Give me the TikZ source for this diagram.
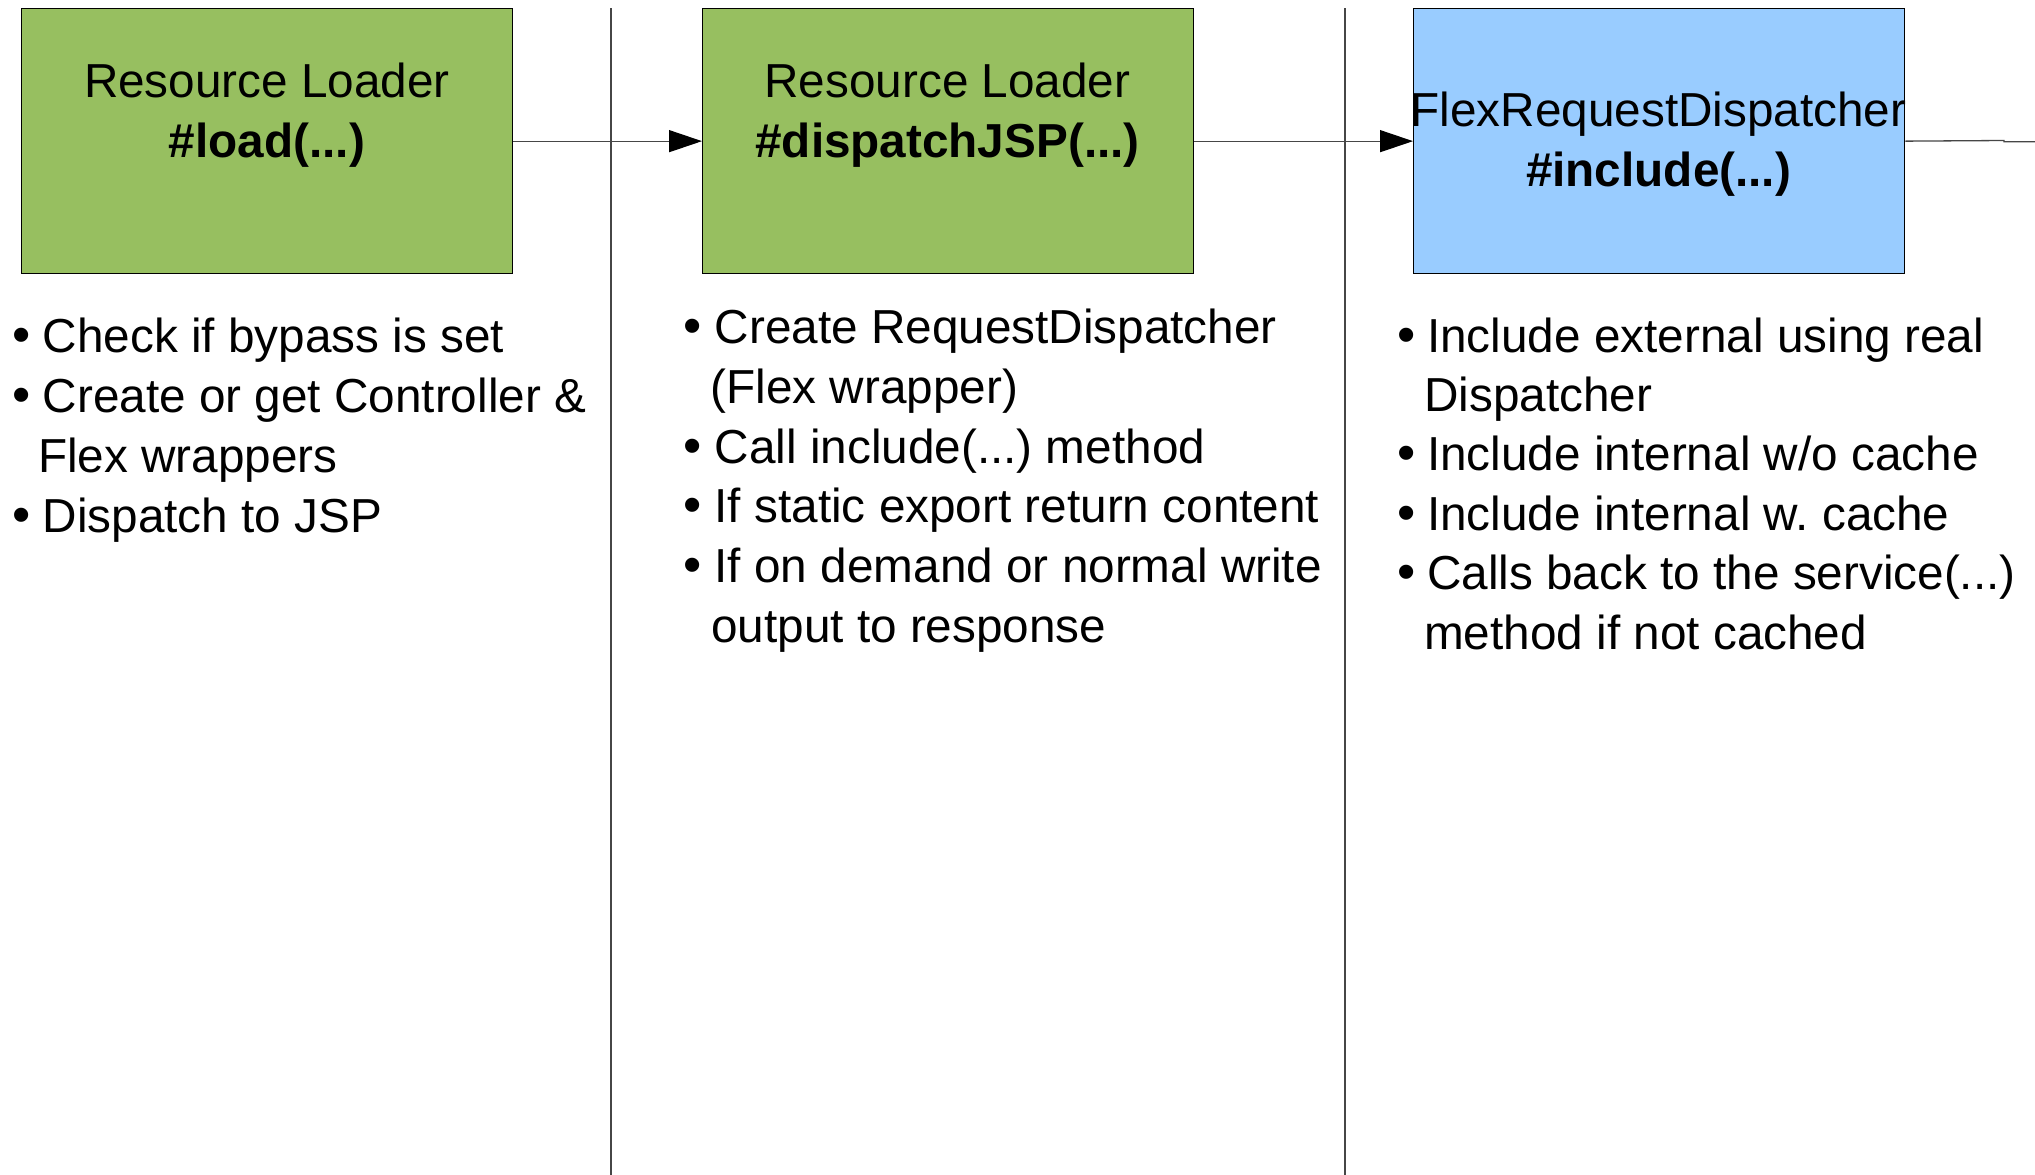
\documentclass[tikz,border=0pt]{standalone}
\usepackage{fontspec}
\setmainfont{Liberation Sans}
\usetikzlibrary{arrows.meta}
\definecolor{boxgreen}{RGB}{151,191,96}
\definecolor{boxblue}{RGB}{153,204,255}
\definecolor{linegrey}{RGB}{70,70,70}
\frenchspacing
\begin{document}
\begin{tikzpicture}[x=1pt,y=-1pt,
  box/.style={draw=black, line width=1.3pt, minimum width=491pt, minimum height=265pt, inner sep=0pt, anchor=north west},
  txt/.style={inner sep=0pt, anchor=base west, font=\fontsize{47.7}{60}\selectfont},
  bul/.style={inner sep=0pt, anchor=base west, font=\fontsize{52}{60}\selectfont},
  ttl/.style={inner sep=0pt, anchor=base, font=\fontsize{47.7}{60}\selectfont},
  sep/.style={draw=linegrey, line width=1.3pt},
  flow/.style={draw=linegrey, line width=1.3pt, -{Triangle[length=33pt,width=22pt,fill=black,color=black]}}]
\useasboundingbox (0,0) rectangle (2035,1175);
\fill[white] (0,0) rectangle (2035,1175);
% separators
\draw[sep] (611,8) -- (611,1175);
\draw[sep] (1345,8) -- (1345,1175);
% boxes
\node[box, fill=boxgreen] (b1) at (21,8) {};
\node[box, fill=boxgreen] (b2) at (702,8) {};
\node[box, fill=boxblue] (b3) at (1413,8) {};
% titles
\node[ttl] (t1a) at (267,97) {Resource Loader};
\node[ttl] (t1b) at (267,157) {\bfseries \#load(...)};
\node[ttl] (t2a) at (947.5,97) {Resource Loader};
\node[ttl] (t2b) at (947.5,157) {\bfseries \#dispatchJSP(...)};
\node[ttl] (t3a) at (1658.5,126) {FlexRequestDispatcher};
\node[ttl] (t3b) at (1658.5,186) {\bfseries \#include(...)};
% connectors
\draw[flow] (b1.east) -- (b2.west);
\draw[flow] (b2.east) -- (b3.west);
\coordinate (k1) at (2004,140.5);
\coordinate (k2) at (2004,141.8);
\coordinate (k3) at (2035,141.8);
\draw[sep] (b3.east) -- (k1) -- (k2) -- (k3);
% column 1
\node[bul] (c1b1) at (12,352) {\textbullet};
\node[txt] (c1l1) at (42.5,352) {Check if bypass is set};
\node[bul] (c1b2) at (12,412) {\textbullet};
\node[txt] (c1l2) at (42.5,412) {Create or get Controller \&};
\node[txt] (c1l3) at (38,472) {Flex wrappers};
\node[bul] (c1b4) at (12,532) {\textbullet};
\node[txt] (c1l4) at (42.5,532) {Dispatch to JSP};
% column 2
\node[bul] (c2b1) at (683,343) {\textbullet};
\node[txt] (c2l1) at (714.5,343) {Create RequestDispatcher};
\node[txt] (c2l2) at (710.5,403) {(Flex wrapper)};
\node[bul] (c2b3) at (683,463) {\textbullet};
\node[txt] (c2l3) at (714.5,463) {Call include(...) method};
\node[bul] (c2b4) at (683,522) {\textbullet};
\node[txt] (c2l4) at (714.5,522) {If static export return content};
\node[bul] (c2b5) at (683,582) {\textbullet};
\node[txt] (c2l5) at (714.5,582) {If on demand or normal write};
\node[txt] (c2l6) at (711,642) {output to response};
% column 3
\node[bul] (c3b1) at (1397,352) {\textbullet};
\node[txt] (c3l1) at (1427,352) {Include external using real};
\node[txt] (c3l2) at (1424,411) {Dispatcher};
\node[bul] (c3b3) at (1397,470) {\textbullet};
\node[txt] (c3l3) at (1427,470) {Include internal w/o cache};
\node[bul] (c3b4) at (1397,530) {\textbullet};
\node[txt] (c3l4) at (1427,530) {Include internal w. cache};
\node[bul] (c3b5) at (1397,589) {\textbullet};
\node[txt] (c3l5) at (1427,589) {Calls back to the service(...)};
\node[txt] (c3l6) at (1424,649) {method if not cached};
\end{tikzpicture}
\end{document}
